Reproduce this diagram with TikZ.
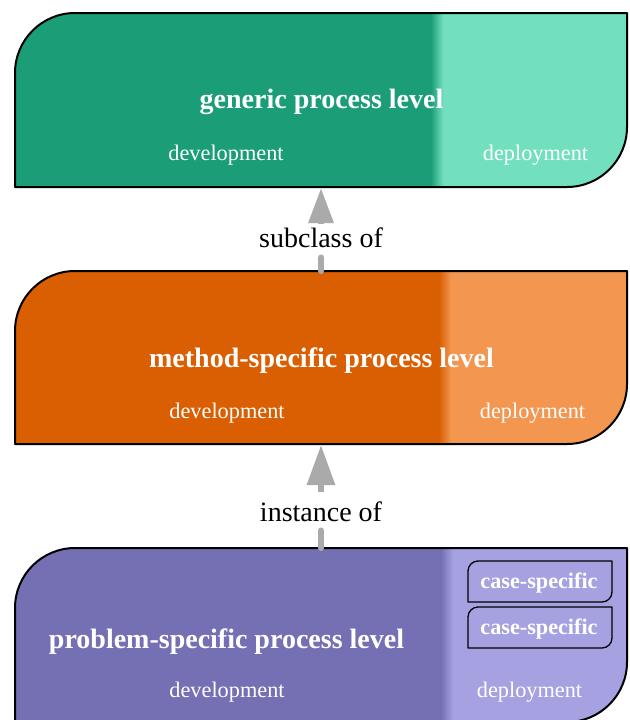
\documentclass[tikz,border=0pt]{standalone}
\usepackage{fontspec}
\setmainfont{Liberation Serif}
\usetikzlibrary{arrows.meta}
\definecolor{tealD}{RGB}{27,158,119}
\definecolor{tealL}{RGB}{114,223,191}
\definecolor{oranD}{RGB}{217,95,2}
\definecolor{oranL}{RGB}{242,150,80}
\definecolor{purpD}{RGB}{117,112,179}
\definecolor{purpL}{RGB}{166,162,225}
\definecolor{arrgray}{RGB}{170,170,170}
\newcommand\lvlbox[5]{% top, bottom, dark, light, split
  \begin{scope}
    \clip (15,#2) -- (15,#1+60) .. controls (15,#1+26.9) and (41.9,#1) .. (75,#1) -- (627,#1) -- (627,#2-60) .. controls (627,#2-26.9) and (600.1,#2) .. (567,#2) -- cycle;
    \fill[#4] (0,#1) rectangle (629,#2);
    \fill[#3] (0,#1) rectangle (#5-6,#2);
    \shade[left color=#3, right color=#4] (#5-6.2,#1) rectangle (#5+6.2,#2);
  \end{scope}
  \draw[line width=2pt, line join=round] (15,#2) -- (15,#1+60) .. controls (15,#1+26.9) and (41.9,#1) .. (75,#1) -- (627,#1) -- (627,#2-60) .. controls (627,#2-26.9) and (600.1,#2) .. (567,#2) -- cycle;
}
\newcommand\csbox[2]{% top, bottom
  \draw[line width=1.3pt, line join=round] (468,#2) -- (468,#1+10) .. controls (468,#1+4.5) and (472.5,#1) .. (478,#1) -- (612,#1) -- (612,#2-10) .. controls (612,#2-4.5) and (607.5,#2) .. (602,#2) -- cycle;
}
\begin{document}
\begin{tikzpicture}[x=1pt,y=-1pt,
  title/.style={anchor=base, text=white, font=\fontsize{28}{32}\selectfont\bfseries, inner sep=0pt},
  part/.style={anchor=base, text=white, font=\fontsize{22.3}{26}\selectfont, inner sep=0pt},
  casetext/.style={anchor=base, text=white, font=\fontsize{22.2}{26}\selectfont\bfseries, inner sep=0pt},
  rel/.style={anchor=base, text=black, font=\fontsize{28}{32}\selectfont, inner sep=0pt},
  shaft/.style={draw=arrgray, line width=6pt},
  tipA/.style={-{Triangle[width=24pt,length=35pt]}},
  tipB/.style={-{Triangle[width=27pt,length=40pt]}}]
\useasboundingbox (0,0) rectangle (629,720);

% boxes
\lvlbox{13}{187}{tealD}{tealL}{437}
\lvlbox{271}{444}{oranD}{oranL}{445}
\lvlbox{548}{722}{purpD}{purpL}{447}

\coordinate (b1bot) at (321,188);
\coordinate (b2top) at (321,271);
\coordinate (b2bot) at (321,445);
\coordinate (b3top) at (321,548);

% texts
\node[title] (t1) at (321.5,108) {generic process level};
\node[part] (d1) at (226,160) {development};
\node[part] (p1) at (535.5,160) {deployment};

\node[title] (t2) at (321.5,367) {method-specific process level};
\node[part] (d2) at (227,418) {development};
\node[part] (p2) at (532.5,418) {deployment};

\node[title] (t3) at (226.5,648) {problem-specific process level};
\node[part] (d3) at (227,697) {development};
\node[part] (p3) at (529.5,697) {deployment};

\csbox{561}{602}
\csbox{607}{648}
\node[casetext] (c1) at (539,588) {case-specific};
\node[casetext] (c2) at (539,634) {case-specific};

% relations
\node[rel] (r1) at (321,247) {subclass of};
\node[rel] (r2) at (321,521) {instance of};

\draw[shaft, line cap=round] (b2top) -- ([yshift=-10pt]r1.south);
\draw[shaft, tipA] ([yshift=3pt]r1.north) -- (b1bot);
\draw[shaft, line cap=round] (b3top) -- ([yshift=-9pt]r2.south);
\draw[shaft, tipB] ([yshift=9pt]r2.north) -- (b2bot);
\end{tikzpicture}
\end{document}
